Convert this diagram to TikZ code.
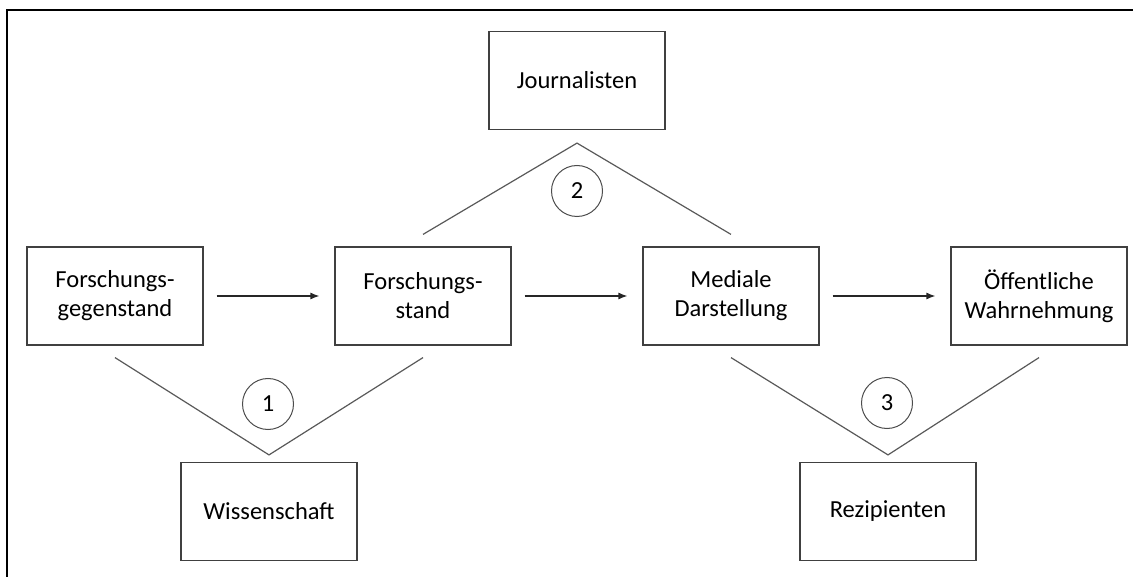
\documentclass[tikz,border=0pt]{standalone}
\usepackage{fontspec}
\setmainfont{Carlito}
\usetikzlibrary{arrows.meta}
\begin{document}
\begin{tikzpicture}[x=1pt,y=-1pt,
    box/.style={draw=black!75,line width=1.2pt,minimum width=176pt,minimum height=98pt,
      align=center,inner sep=0pt},
    num/.style={circle,draw=black!70,line width=1pt,minimum size=51pt,inner sep=0pt},
    vee/.style={draw=black!65,line width=1.2pt},
    flow/.style={draw=black!85,line width=1.2pt,-{Latex[length=9pt,width=7pt]},
      shorten <=13pt,shorten >=15pt}]
  \fontsize{24.5}{29}\selectfont
  \useasboundingbox (0,0) rectangle (1133,577);
  \draw[line width=2.2pt] (7,577) -- (7,10) -- (1133,10);
  \node[box] (fg) at(115,296) {Forschungs-\\gegenstand};
  \node[box] (fs) at(423,296) {Forschungs-\\stand};
  \node[box] (md) at(731,296) {Mediale\\Darstellung};
  \node[box] (oew) at(1039,296) {Öffentliche\\Wahrnehmung};
  \node[box] (jour) at(577,80.5) {Journalisten};
  \node[box] (wiss) at(269,511.5) {Wissenschaft};
  \node[box] (rez) at(888,511.5) {Rezipienten};
  \node[num] (c1) at(268,404) {1};
  \node[num] (c2) at(577,191) {2};
  \node[num] (c3) at(887,403) {3};
  \draw[flow] (fg)-- (fs);
  \draw[flow] (fs)-- (md);
  \draw[flow] (md)-- (oew);
  \draw[vee] ([yshift=-12pt]fg.south)-- ([yshift=7pt]wiss.north)-- ([yshift=-12pt]fs.south);
  \draw[vee] ([yshift=12pt]fs.north)-- ([yshift=-13pt]jour.south)-- ([yshift=12pt]md.north);
  \draw[vee] ([yshift=-12pt]md.south)-- ([yshift=7pt]rez.north)-- ([yshift=-12pt]oew.south);
\end{tikzpicture}
\end{document}
